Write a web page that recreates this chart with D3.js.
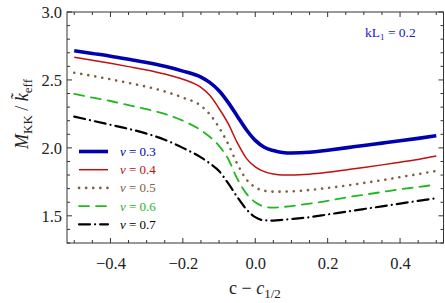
<!DOCTYPE html>
<html>
<head>
<meta charset="utf-8">
<script src="https://cdn.jsdelivr.net/npm/d3@7"></script>
<style>
  body { margin: 0; background: #fff; }
  svg text { font-family: "Liberation Serif", "Times New Roman", serif !important; }
</style>
</head>
<body>
<svg width="445" height="303"></svg>
<script>
// x values (c - c_1/2)
var xs = [-0.5, -0.45, -0.4, -0.35, -0.3, -0.25, -0.2, -0.15, -0.125, -0.1, -0.075, -0.05, -0.025,
          0, 0.025, 0.05, 0.075, 0.1, 0.15, 0.2, 0.25, 0.3, 0.35, 0.4, 0.45, 0.5];

// M_KK / k_eff for each nu
var nu03 = [2.715, 2.695, 2.675, 2.652, 2.628, 2.600, 2.565, 2.52, 2.48, 2.42, 2.335, 2.235, 2.135,
            2.055, 2.005, 1.98, 1.966, 1.962, 1.968, 1.983, 2.0, 2.018, 2.035, 2.052, 2.07, 2.09];
var nu04 = [2.667, 2.645, 2.622, 2.598, 2.573, 2.543, 2.505, 2.445, 2.385, 2.29, 2.18, 2.04, 1.925,
            1.86, 1.825, 1.808, 1.800, 1.800, 1.806, 1.82, 1.838, 1.856, 1.875, 1.895, 1.915, 1.94];
var nu05 = [2.553, 2.53, 2.505, 2.478, 2.45, 2.415, 2.37, 2.31, 2.245, 2.15, 2.03, 1.885, 1.77,
            1.71, 1.685, 1.678, 1.678, 1.68, 1.69, 1.705, 1.722, 1.742, 1.762, 1.785, 1.807, 1.83];
var nu06 = [2.397, 2.37, 2.345, 2.315, 2.285, 2.25, 2.20, 2.13, 2.08, 2.015, 1.92, 1.775, 1.665,
            1.60, 1.568, 1.56, 1.565, 1.572, 1.59, 1.61, 1.635, 1.655, 1.675, 1.695, 1.712, 1.73];
var nu07 = [2.23, 2.20, 2.17, 2.14, 2.105, 2.06, 2.00, 1.93, 1.885, 1.83, 1.74, 1.64, 1.55,
            1.49, 1.467, 1.465, 1.47, 1.476, 1.49, 1.51, 1.53, 1.55, 1.57, 1.59, 1.61, 1.63];

var nuLabels = ["0.3", "0.4", "0.5", "0.6", "0.7"];
var xTicks = [-0.4, -0.2, 0.0, 0.2, 0.4];
var yTicks = [1.5, 2.0, 2.5, 3.0];

var series = [
  {nu: nuLabels[0], vals: nu03, color: "#0000b0", width: 3.6, dash: null},
  {nu: nuLabels[1], vals: nu04, color: "#c01010", width: 1.5, dash: null},
  {nu: nuLabels[2], vals: nu05, color: "#806040", width: 2.6, dash: "0.1,7"},
  {nu: nuLabels[3], vals: nu06, color: "#20b820", width: 1.8, dash: "10,7"},
  {nu: nuLabels[4], vals: nu07, color: "#000000", width: 2.2, dash: "11,5,0.1,5"}
];

var svg = d3.select("svg");
var L = 67, R = 443.5, T = 12, B = 243;

var x = d3.scaleLinear().domain([-0.52, 0.52]).range([L, R]);
var y = d3.scaleLinear().domain([1.3, 3.0]).range([B, T]);

// clip
svg.append("clipPath").attr("id", "clip")
  .append("rect").attr("x", L).attr("y", T).attr("width", R - L).attr("height", B - T);

var line = d3.line()
  .x(function(d) { return x(d[0]); })
  .y(function(d) { return y(d[1]); })
  .curve(d3.curveMonotoneX);

var g = svg.append("g").attr("clip-path", "url(#clip)");
series.forEach(function(s) {
  var pts = xs.map(function(v, i) { return [v, s.vals[i]]; });
  g.append("path")
    .attr("d", line(pts))
    .attr("fill", "none")
    .attr("stroke", s.color)
    .attr("stroke-width", s.width)
    .attr("stroke-linecap", s.dash ? "round" : "butt")
    .attr("stroke-dasharray", s.dash);
});

// frame ticks (inside, all four sides)
var tickCol = "#333";
var xMinor = d3.range(-0.5, 0.5001, 0.05).map(function(v) { return +v.toFixed(2); });
var yMinor = d3.range(1.3, 3.0001, 0.1).map(function(v) { return +v.toFixed(1); });

function isMajor(v, list) {
  return list.some(function(t) { return Math.abs(t - v) < 1e-6; });
}

var ticksG = svg.append("g");
xMinor.forEach(function(v) {
  var len = isMajor(v, xTicks) ? 5 : 3;
  ticksG.append("line").attr("x1", x(v)).attr("x2", x(v)).attr("y1", B).attr("y2", B - len)
    .attr("stroke", tickCol);
  ticksG.append("line").attr("x1", x(v)).attr("x2", x(v)).attr("y1", T).attr("y2", T + len)
    .attr("stroke", tickCol);
});
yMinor.forEach(function(v) {
  var len = isMajor(v, yTicks) ? 5 : 3;
  ticksG.append("line").attr("y1", y(v)).attr("y2", y(v)).attr("x1", L).attr("x2", L + len)
    .attr("stroke", tickCol);
  ticksG.append("line").attr("y1", y(v)).attr("y2", y(v)).attr("x1", R).attr("x2", R - len)
    .attr("stroke", tickCol);
});

// tick labels through d3 axes
var xAxis = svg.append("g").attr("transform", "translate(0," + B + ")")
  .call(d3.axisBottom(x).tickValues(xTicks).tickSize(0).tickPadding(14)
    .tickFormat(function(d) { return d3.format(".1f")(d).replace("-", "\u2212"); }));
xAxis.select(".domain").remove();
xAxis.attr("font-family", null);
xAxis.selectAll("text").attr("font-size", 16.5).attr("fill", "#222");

var yAxis = svg.append("g").attr("transform", "translate(" + L + ",0)")
  .call(d3.axisLeft(y).tickValues(yTicks).tickSize(0).tickPadding(5).tickFormat(d3.format(".1f")));
yAxis.select(".domain").remove();
yAxis.attr("font-family", null);
yAxis.selectAll("text").attr("font-size", 16.5).attr("fill", "#222");

// frame
svg.append("rect").attr("x", L).attr("y", T).attr("width", R - L).attr("height", B - T)
  .attr("fill", "none").attr("stroke", tickCol).attr("stroke-width", 1);

// legend
var leg = svg.append("g");
series.forEach(function(s, i) {
  var ly = 151.5 + i * 18.2;
  leg.append("line").attr("x1", 79).attr("x2", 108).attr("y1", ly).attr("y2", ly)
    .attr("stroke", s.color).attr("stroke-width", s.width)
    .attr("stroke-linecap", s.dash ? "round" : "butt")
    .attr("stroke-dasharray", s.dash);
  var t = leg.append("text").attr("x", 120).attr("y", ly + 4.5)
    .attr("font-size", 13).attr("fill", s.color);
  t.append("tspan").attr("font-style", "italic").text("\u03bd");
  t.append("tspan").text(" = " + s.nu);
});

// annotation
var ann = svg.append("text").attr("x", 365).attr("y", 37).attr("font-size", 13.5).attr("fill", "#2020c8");
ann.append("tspan").text("kL");
ann.append("tspan").attr("font-size", 9).attr("dy", 3).text("1");
ann.append("tspan").attr("dy", -3).text(" = 0.2");

// x label
var xl = svg.append("text").attr("x", 255).attr("y", 294).attr("text-anchor", "middle")
  .attr("font-size", 18).attr("fill", "#222");
xl.append("tspan").text("c \u2212 ");
xl.append("tspan").attr("font-style", "italic").text("c");
xl.append("tspan").attr("font-size", 13).attr("dy", 4).text("1/2");

// y label
var yl = svg.append("text").attr("transform", "translate(28,114) rotate(-90)")
  .attr("text-anchor", "middle").attr("font-size", 18).attr("fill", "#222");
yl.append("tspan").attr("font-style", "italic").text("M");
yl.append("tspan").attr("font-size", 13).attr("dy", 4).text("KK");
yl.append("tspan").attr("dy", -4).text(" / ");
yl.append("tspan").attr("font-style", "italic").text("k\u0303");
yl.append("tspan").attr("font-size", 13).attr("dy", 4).text("eff");
</script>
</body>
</html>
